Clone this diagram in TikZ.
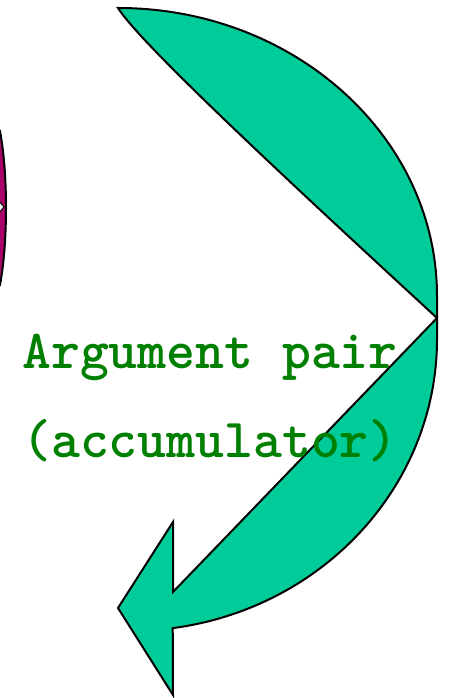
\documentclass[tikz,border=0pt]{standalone}
\usepackage{fontspec}
\definecolor{arrowgreen}{HTML}{00CC99}
\definecolor{textgreen}{HTML}{008000}
\definecolor{magentafill}{HTML}{AA006A}
\begin{document}
\begin{tikzpicture}[x=1pt,y=1pt,
  shapeline/.style={draw=black,line width=2pt,line join=miter},
  labeltext/.style={font=\ttfamily\bfseries\fontsize{55}{55}\selectfont,text=textgreen,anchor=base,inner sep=0pt}]
\useasboundingbox (0,0) rectangle (449,698);
\fill[white] (0,0) rectangle (449,698);
\begin{scope}
\clip (0,0) rectangle (449,698);
% partial magenta shape at the left edge
\path[shapeline,fill=magentafill] (-10,567) -- (0,567) .. controls (5,540) and (6,510) .. (6,491)
  .. controls (6,470) and (5,440) .. (0,413) -- (-10,413) -- cycle;
\path[draw=black,line width=1pt,fill=white] (-2,498) -- (4,491) -- (-2,484) -- cycle;
\end{scope}
% green curved arrow
\path[shapeline,fill=arrowgreen]
  (118,690) arc[start angle=90,end angle=0,x radius=319,y radius=288]
  -- (437,359)
  arc[start angle=0,end angle=-82,x radius=307,y radius=292]
  -- (173,3) -- (118,90) -- (173,176) -- (173,106) -- (437,380)
  .. controls (280,524.6) and (140,655) .. (118,690) -- cycle;
\node[labeltext] (l1) at (210,329) {Argument pair};
\node[labeltext] (l2) at (210,240) {(accumulator)};
\end{tikzpicture}
\end{document}
